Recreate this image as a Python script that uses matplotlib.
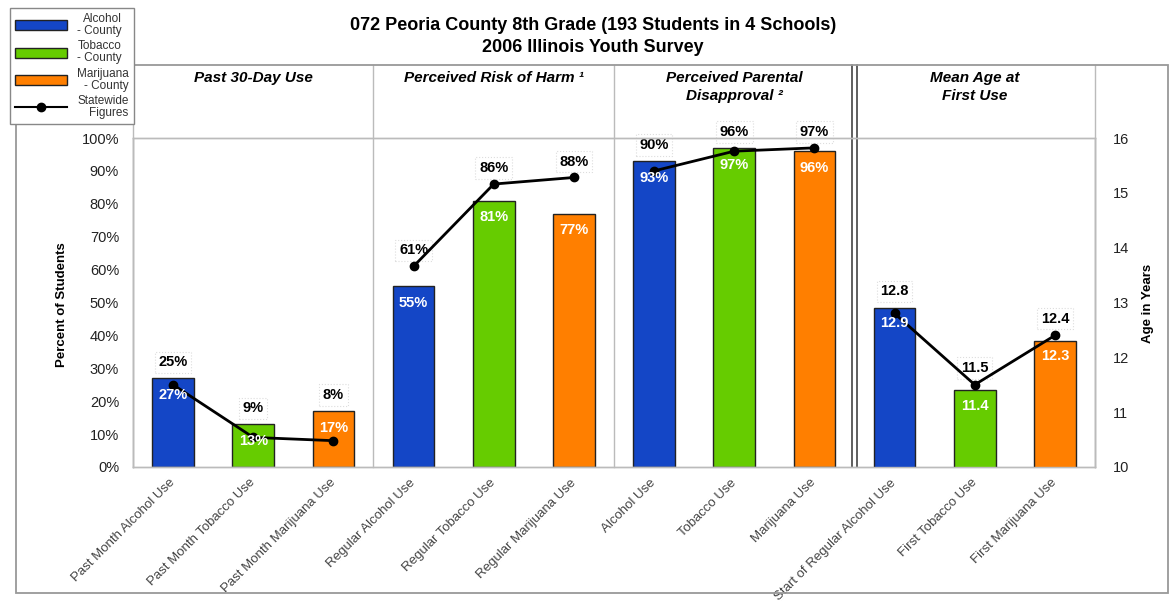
import numpy as np
import matplotlib.pyplot as plt
from matplotlib.lines import Line2D
from matplotlib.patches import Patch, Rectangle

plt.rcParams['font.family'] = ['Liberation Sans', 'DejaVu Sans']

# categories along the x axis (4 groups of 3)
categories = ['Past Month Alcohol Use', 'Past Month Tobacco Use', 'Past Month Marijuana Use',
              'Regular Alcohol Use', 'Regular Tobacco Use', 'Regular Marijuana Use',
              'Alcohol Use', 'Tobacco Use', 'Marijuana Use',
              'Start of Regular Alcohol Use', 'First Tobacco Use', 'First Marijuana Use']
group_titles = ['Past 30-Day Use', 'Perceived Risk of Harm \u00b9',
                'Perceived Parental\nDisapproval \u00b2', 'Mean Age at\nFirst Use']

# county values (bars) and statewide values (line)
county_pct = [27, 13, 17, 55, 81, 77, 93, 97, 96]
state_pct = [25, 9, 8, 61, 86, 88, 90, 96, 97]
county_age = [12.9, 11.4, 12.3]
state_age = [12.8, 11.5, 12.4]

blue, green, orange = '#1446C6', '#66CC00', '#FF7F00'
colors = [blue, green, orange]

W, H = 1170, 603
fig = plt.figure(figsize=(W / 100, H / 100), dpi=100)
ax = fig.add_axes([133 / W, 1 - 467 / H, (1095 - 133) / W, 329 / H])
ax2 = ax.twinx()

x = np.arange(len(categories))
bw = 0.52
lab_kw = dict(textcoords='offset points', ha='center', va='center',
              fontsize=10.5, fontweight='bold')
box = dict(boxstyle='square,pad=0.25', fc='white', ec='#dddddd', ls=':', lw=0.8)

# percent groups
ax.bar(x[:9], county_pct, width=bw, color=colors * 3, edgecolor='#222222', lw=1, zorder=2)
for g in range(3):
    sl = slice(3 * g, 3 * g + 3)
    ax.plot(x[sl], state_pct[sl], '-o', color='black', lw=2, ms=6, zorder=3)
for xi, c, s in zip(x[:9], county_pct, state_pct):
    ax.annotate(f'{c}%', (xi, c), xytext=(0, -12), color='white', zorder=4, **lab_kw)
    ax.annotate(f'{s}%', (xi, max(c, s)), xytext=(0, 11.5), color='black', bbox=box,
                zorder=2.5, **lab_kw)

# age group on the right axis
ax2.bar(x[9:], county_age, width=bw, color=colors, edgecolor='#222222', lw=1, zorder=2)
ax2.plot(x[9:], state_age, '-o', color='black', lw=2, ms=6, zorder=3)
for xi, c, s in zip(x[9:], county_age, state_age):
    ax2.annotate(f'{c}', (xi, c), xytext=(0, -11), color='white', zorder=4, **lab_kw)
    ax2.annotate(f'{s}', (xi, max(c, s)), xytext=(0, 12), color='black', bbox=box,
                 zorder=2.5, **lab_kw)

ax.set_xlim(-0.5, 11.5)
ax.set_ylim(0, 100)
ax2.set_ylim(10, 16)
ax.set_yticks(range(0, 101, 10))
ax.set_yticklabels([f'{v}%' for v in range(0, 101, 10)])
ax2.set_yticks(range(10, 17))
ax.tick_params(axis='y', length=0, pad=10, labelsize=10.5, labelcolor='#222222')
ax2.tick_params(axis='y', length=0, pad=13, labelsize=10.5, labelcolor='#222222')
ax.set_xticks(x)
ax.set_xticklabels(categories, rotation=45, ha='right', va='center', rotation_mode='anchor',
                   fontsize=9.5, color='#444444')
ax.tick_params(axis='x', length=0, pad=10)

for a in (ax, ax2):
    for sp in a.spines.values():
        sp.set_color('#bbbbbb')
        sp.set_linewidth(1)

# dividers running up through the header row
top = (467 - 65) / 329
for xv in (-0.5, 2.5, 5.5, 11.5):
    ax.axvline(xv, ymin=0, ymax=top, color='#bbbbbb', lw=1, clip_on=False, zorder=1)
for xv in (8.475, 8.525):
    ax.axvline(xv, ymin=0, ymax=top, color='#444444', lw=1.2, clip_on=False, zorder=1)

# group headers
trans = ax.get_xaxis_transform()
for g, t in enumerate(group_titles):
    ax.text(3 * g + 1, (467 - 71) / 329, t, transform=trans, ha='center', va='top',
            fontsize=11, fontweight='bold', fontstyle='italic', linespacing=1.35)

fig.text(62 / W, 1 - 305 / H, 'Percent of Students', rotation=90, ha='center', va='center',
         fontsize=9.5, fontweight='bold')
fig.text(1148 / W, 1 - 303 / H, 'Age in Years', rotation=90, ha='center', va='center',
         fontsize=9.5, fontweight='bold')

fig.text(593 / W, 1 - 26 / H, '072 Peoria County 8th Grade (193 Students in 4 Schools)',
         ha='center', va='center', fontsize=13, fontweight='bold')
fig.text(593 / W, 1 - 47 / H, '2006 Illinois Youth Survey',
         ha='center', va='center', fontsize=13, fontweight='bold')

# outer frame
fig.add_artist(Rectangle((16 / W, 1 - 593 / H), 1152 / W, 528 / H, transform=fig.transFigure,
                         fill=False, ec='#999999', lw=1.3))

handles = [Patch(fc=blue, ec='#222222'), Patch(fc=green, ec='#222222'),
           Patch(fc=orange, ec='#222222'),
           Line2D([], [], color='black', lw=1.5, marker='o', ms=6)]
labels = ['Alcohol\n- County', 'Tobacco\n- County', 'Marijuana\n- County', 'Statewide\nFigures']
leg = fig.legend(handles, labels, loc='upper left', bbox_to_anchor=(10 / W, 1 - 8 / H),
                 fontsize=8.5, frameon=True, fancybox=False, edgecolor='#888888',
                 handlelength=4.4, handleheight=0.9, labelspacing=0.3, borderpad=0.4,
                 handletextpad=0.9, borderaxespad=0, framealpha=1)
for t in leg.get_texts():
    t.set_multialignment('right')
    t.set_linespacing(1.0)
    t.set_color('#333333')

fig.savefig('out.png', dpi=100)
